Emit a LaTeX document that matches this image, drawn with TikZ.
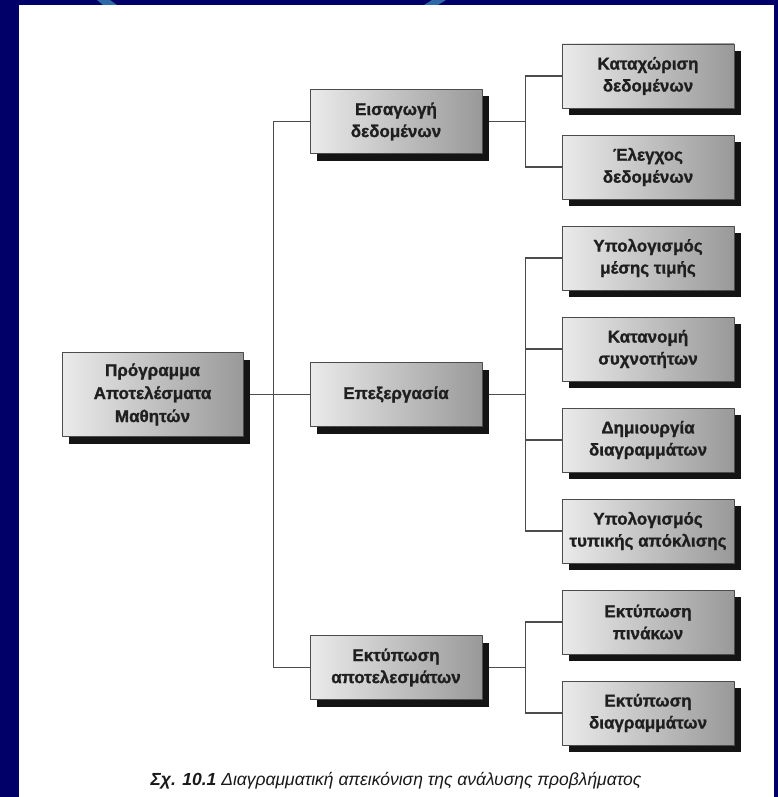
\documentclass[tikz,border=0pt]{standalone}
\usepackage{fontspec}
\setmainfont{Liberation Sans}
\newfontfamily\heavyfont[FakeBold=1.2]{Liberation Sans Bold}
\usetikzlibrary{shadows,backgrounds}
\definecolor{navy}{RGB}{0,0,104}
\definecolor{arcblue}{RGB}{46,104,168}
\begin{document}
\begin{tikzpicture}[x=1pt,y=-1pt, line join=round,
    box/.style={draw=black!70, line width=0.9pt, left color=black!8, right color=black!40,
      minimum width=172pt, minimum height=64pt, inner sep=0pt, align=center,
      font=\heavyfont\fontsize{17}{22}\selectfont, text=black!88,
      drop shadow={shadow xshift=7pt, shadow yshift=-7pt, opacity=1, fill=black!92}},
    link/.style={draw=black!70, line width=1.1pt}]
  \def\xl{30} \def\xr{43} % trunk offsets
  \useasboundingbox (0,0) rectangle (778,797);
  % root and levels
  \node[box, minimum width=181pt, minimum height=84pt, font=\heavyfont\fontsize{17}{23}\selectfont] (prog) at (152.5,394.5) {Πρόγραμμα\\Αποτελέσματα\\Μαθητών};
  \node[box] (eis) at (396,121.5) {Εισαγωγή\\δεδομένων};
  \node[box] (epe) at (396,394.5) {Επεξεργασία};
  \node[box] (ekt) at (396,667.5) {Εκτύπωση\\αποτελεσμάτων};
  \node[box] (kat) at (648,76) {Καταχώριση\\δεδομένων};
  \node[box] (ele) at (648,167) {Έλεγχος\\δεδομένων};
  \node[box] (mes) at (648,258) {Υπολογισμός\\μέσης τιμής};
  \node[box] (syx) at (648,349) {Κατανομή\\συχνοτήτων};
  \node[box] (dia) at (648,440) {Δημιουργία\\διαγραμμάτων};
  \node[box] (typ) at (648,531) {Υπολογισμός\\τυπικής απόκλισης};
  \node[box] (pin) at (648,622) {Εκτύπωση\\πινάκων};
  \node[box] (edi) at (648,713) {Εκτύπωση\\διαγραμμάτων};
  \node[font=\fontsize{17.5}{20}\selectfont\itshape, text=black!90] (cap) at (396,781) {\textbf{Σχ. 10.1} Διαγραμματική απεικόνιση της ανάλυσης προβλήματος};
  \begin{scope}[on background layer]
    \fill[navy] (0,0) rectangle (778,797);
    \fill[white] (19,5) rectangle (774,797);
    \fill[arcblue] (97,0) -- (110,0) -- (117,5) -- (103,5) -- cycle;
    \fill[arcblue] (432,0) -- (446,0) -- (438,5) -- (424,5) -- cycle;
    \foreach \b in {eis,epe,ekt}
      \draw[link] (prog.east) -- ++(\xl,0) |- (\b.west);
    \foreach \a/\b in {eis/kat,eis/ele,epe/mes,epe/syx,epe/dia,epe/typ,ekt/pin,ekt/edi}
      \draw[link] (\a.east) -- ++(\xr,0) |- (\b.west);
  \end{scope}
\end{tikzpicture}
\end{document}
